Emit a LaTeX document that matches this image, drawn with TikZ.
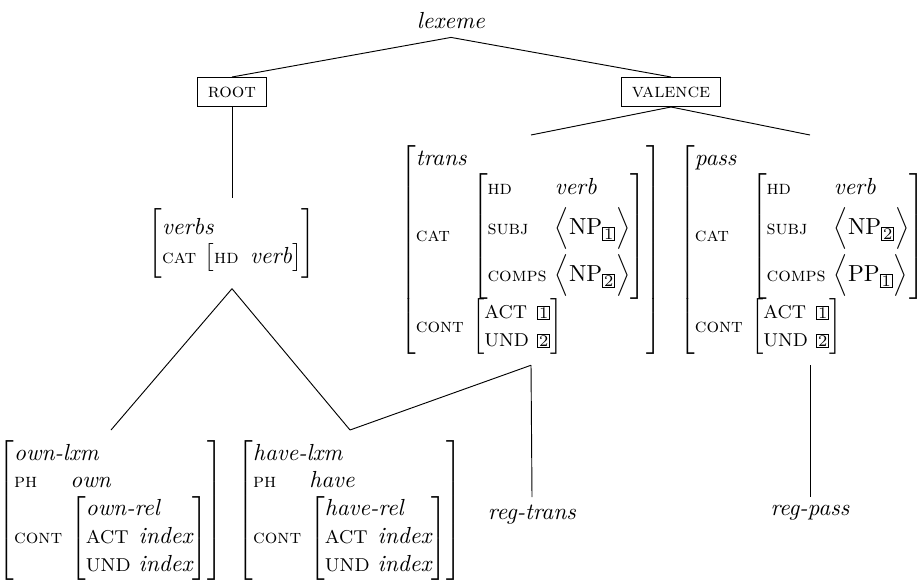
\documentclass[tikz,border=0pt]{standalone}
\usepackage{amsmath,amssymb}
\usepackage{tikz}
\delimitershortfall=0pt
\newcommand{\ft}[1]{\mbox{\fontsize{8.5}{10}\selectfont\scshape #1}}
\newcommand{\fu}[1]{\mbox{\footnotesize #1}}
\newcommand{\ty}[1]{\textit{#1}}
\newcommand{\tg}[1]{{\setlength{\fboxsep}{0.4pt}\fbox{\scriptsize #1}}}
\newcommand{\avm}[1]{\ensuremath{\left[\begin{array}{@{}l@{\hspace{3.5pt}}l@{}}#1\end{array}\right]}}
\newcommand{\lst}[1]{\ensuremath{\Bigl\langle #1\Bigr\rangle\rule[-6.7pt]{0pt}{20.2pt}}}

\begin{document}
\begin{tikzpicture}[x=0.43pt,y=-0.43pt,
    tbox/.style={draw,inner xsep=4.5pt,inner ysep=2pt,minimum height=12.5pt},
    avm/.style={inner sep=4.3pt}]
    \useasboundingbox (0,0) rectangle (921,582);
    \clip (0,0) rectangle (921,582);
    \node (lx) at (451,21) {\ty{lexeme}};
    \node[tbox] (root) at (232,92) {\ft{root}};
    \node[tbox] (val) at (671,92) {\ft{valence}};
    \node[avm,anchor=north] (verbs) at (232,198) {\avm{\multicolumn{2}{@{}l@{}}{\ty{verbs}}\\
      \ft{cat} & \bigl[\ft{hd}\hspace{5pt}\ty{verb}\bigr]}};
    \node[avm,anchor=north] (trans) at (531,135) {\avm{\multicolumn{2}{@{}l@{}}{\ty{trans}}\\
      \ft{cat} & \avm{\ft{hd} & \ty{verb}\\ \ft{subj} & \lst{\mathrm{NP}_{\tg{1}}}\\ \ft{comps} & \lst{\mathrm{NP}_{\tg{2}}}}\\[5pt]
      \ft{cont} & \avm{\fu{ACT} & \tg{1}\\ \fu{UND} & \tg{2}}}};
    \node[avm,anchor=north] (pass) at (810,135) {\avm{\multicolumn{2}{@{}l@{}}{\ty{pass}}\\
      \ft{cat} & \avm{\ft{hd} & \ty{verb}\\ \ft{subj} & \lst{\mathrm{NP}_{\tg{2}}}\\ \ft{comps} & \lst{\mathrm{PP}_{\tg{1}}}}\\[5pt]
      \ft{cont} & \avm{\fu{ACT} & \tg{1}\\ \fu{UND} & \tg{2}}}};
    \node[avm,anchor=north] (own) at (111,430) {\avm{\multicolumn{2}{@{}l@{}}{\ty{own-lxm}}\\
      \ft{ph} & \ty{own}\\
      \ft{cont} & \avm{\multicolumn{2}{@{}l@{}}{\ty{own-rel}}\\ \fu{ACT} & \ty{index}\\ \fu{UND} & \ty{index}}}};
    \node[avm,anchor=north] (have) at (350,430) {\avm{\multicolumn{2}{@{}l@{}}{\ty{have-lxm}}\\
      \ft{ph} & \ty{have}\\
      \ft{cont} & \avm{\multicolumn{2}{@{}l@{}}{\ty{have-rel}}\\ \fu{ACT} & \ty{index}\\ \fu{UND} & \ty{index}}}};
    \node[anchor=north] (rt) at (532,497) {\ty{reg-trans}};
    \node[anchor=north] (rp) at (810,497) {\ty{reg-pass}};
    \draw (lx.south) to (root.north);
    \draw (lx.south) to (val.north);
    \draw (root.south) to (verbs.north);
    \draw (val.south) to (trans.north);
    \draw (val.south) to (pass.north);
    \draw (verbs.south) to (own.north);
    \draw (verbs.south) to (have.north);
    \draw (have.north) to (trans.south);
    \draw (trans.south) to (rt.north);
    \draw (pass.south) to (rp.north);
\end{tikzpicture}
\end{document}
